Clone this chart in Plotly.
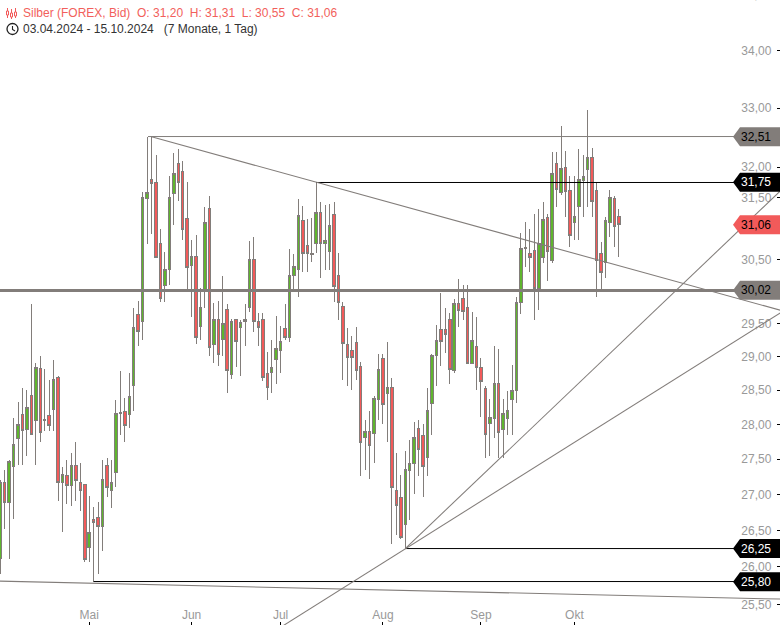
import math
import plotly.graph_objects as go

W, H = 780, 625

# Trading-day index of each candle (0 = 03.04.2024, 139 = 15.10.2024)
days = list(range(140))
opens = [26.11,27.16,26.89,27.40,27.80,28.14,27.92,28.42,28.06,28.83,28.06,28.13,28.22,28.69,27.16,27.27,27.13,27.41,27.17,27.14,
26.26,26.65,26.68,26.55,27.41,27.05,27.31,28.16,28.19,28.14,28.57,29.65,29.54,31.48,31.80,31.75,30.76,30.10,30.35,31.56,
32.06,31.93,31.16,30.41,30.55,29.46,30.00,31.32,29.19,29.56,29.26,29.72,28.74,29.56,29.45,29.53,29.75,30.51,29.53,29.57,
28.75,28.77,28.96,29.10,29.43,29.29,30.25,30.35,31.13,30.73,30.60,30.76,31.26,30.76,30.63,31.22,30.25,29.77,29.19,29.10,
29.22,28.86,27.81,27.90,27.87,28.36,28.98,28.45,28.54,27.06,26.96,26.58,27.34,27.44,27.94,27.84,27.52,28.31,29.02,29.42,
29.42,29.57,28.80,29.81,29.89,29.75,28.90,29.16,28.84,28.53,28.01,28.09,28.60,27.93,28.09,28.36,28.49,29.83,30.67,30.60,
30.65,30.04,30.54,31.18,30.49,32.06,31.58,32.00,31.61,31.10,31.35,31.78,31.96,32.16,31.61,30.60,30.46,31.10,31.48,31.20]
highs = [27.20,27.34,27.49,28.09,28.32,28.53,28.50,29.80,28.90,29.01,28.81,28.65,28.95,28.71,27.38,27.48,27.58,27.74,27.44,27.15,
26.98,26.82,26.89,27.48,27.52,27.48,28.35,28.79,28.38,28.75,29.74,29.85,31.59,32.51,32.51,32.20,30.99,30.62,31.85,32.23,
32.30,32.10,31.76,30.81,30.89,30.05,31.34,31.53,29.82,29.86,30.25,29.81,29.57,29.57,29.56,29.81,30.79,30.86,29.66,29.66,
29.07,29.25,29.62,29.46,29.81,30.67,30.59,31.48,31.37,31.15,31.16,31.75,31.43,31.38,31.40,31.43,30.60,29.83,29.43,29.31,
29.45,28.92,28.07,28.19,28.41,29.04,29.04,29.22,28.68,27.58,27.27,27.61,27.77,28.04,28.06,28.00,28.53,29.04,29.48,29.97,
29.74,29.66,29.88,30.19,30.10,30.10,29.68,29.60,28.98,28.56,28.37,29.17,29.11,28.37,28.49,28.87,29.91,30.92,31.10,30.99,
31.23,31.31,31.43,31.23,32.26,32.26,32.70,32.28,31.85,31.85,32.30,32.21,32.96,32.33,31.76,30.78,31.18,31.63,31.53,31.31]
lows = [25.90,26.52,26.11,26.66,27.41,27.41,27.55,27.85,27.41,27.75,27.90,27.91,27.90,26.90,26.47,26.86,26.84,26.90,26.77,26.07,
26.07,25.80,25.90,26.22,26.96,26.81,27.11,27.85,27.75,27.95,28.20,29.16,29.25,30.75,30.91,30.54,29.84,29.84,30.10,31.05,
31.45,30.81,30.04,29.60,29.20,29.26,29.75,29.01,28.90,28.86,29.01,28.46,28.66,28.84,28.71,29.16,29.68,29.37,29.16,28.63,
28.35,28.46,28.60,28.75,29.26,29.23,30.02,29.91,30.30,30.30,30.46,30.60,30.21,30.33,30.33,29.84,29.56,28.65,28.56,28.50,
28.65,27.26,27.35,27.21,27.45,28.06,28.00,27.75,26.31,26.43,26.38,26.25,26.64,27.00,27.26,26.96,27.26,27.85,28.56,28.86,
29.05,28.60,28.75,29.45,29.56,28.90,28.89,28.50,28.10,27.51,27.55,27.80,27.51,27.51,27.85,27.85,28.31,29.65,30.39,30.30,
29.56,29.72,30.44,30.16,30.44,31.35,31.55,31.19,30.70,30.81,30.81,31.19,31.35,31.19,29.91,30.02,30.21,30.86,30.70,30.55]
closes = [27.17,26.89,27.47,27.71,28.00,27.91,28.24,27.85,28.84,27.88,28.07,27.99,28.66,27.17,27.28,27.13,27.41,27.20,27.06,26.10,
26.47,26.61,26.55,27.21,27.10,27.16,28.16,28.17,27.99,28.41,29.45,29.39,31.50,31.59,31.73,30.54,29.89,30.35,31.50,31.90,
31.75,30.99,30.38,30.55,29.29,29.75,31.10,29.14,29.56,29.04,29.51,28.80,29.54,29.23,29.52,29.56,30.51,29.53,29.45,28.69,
28.54,28.84,29.12,29.23,29.29,30.25,30.39,31.21,30.60,30.60,30.59,31.26,30.76,30.81,31.05,30.08,29.83,29.20,28.99,28.99,
28.80,27.74,27.90,27.69,28.38,28.81,28.29,28.54,27.10,26.85,26.40,27.35,27.44,27.81,27.63,27.40,28.20,29.02,29.25,29.23,
29.34,28.81,29.81,29.71,29.69,28.90,29.25,28.84,28.63,27.85,28.10,28.60,27.88,28.16,28.20,28.50,29.83,30.68,30.70,30.54,
30.04,30.75,31.15,30.63,31.90,31.63,31.98,31.60,30.89,31.19,31.80,31.85,32.16,31.43,30.49,30.29,31.13,31.50,31.03,31.06]

month_labels = ["Mai", "Jun", "Jul", "Aug", "Sep", "Okt"]
month_days = [20, 43, 63, 86, 108, 129]
price_ticks = [25.5, 26, 26.5, 27, 27.5, 28, 28.5, 29, 29.5, 30.5, 31.5, 32, 33, 34]
price_tick_labels = ["25,50", "26,00", "26,50", "27,00", "27,50", "28,00", "28,50",
                     "29,00", "29,50", "30,50", "31,50", "32,00", "33,00", "34,00"]

# Horizontal levels: value, first day, colour, width
level_values = [32.515, 31.748, 30.015, 26.25, 25.804]
level_starts = [33.2, 71, -1, 91, 21]
level_colors = ["#827d7a", "#000000", "#827d7a", "#000000", "#000000"]
level_widths = [1, 1, 3, 1, 1]

# Trend lines: (day, price) -> (day, price)
trend_from_day = [34, 91, 63.6, -0.1]
trend_from_val = [32.51, 26.25, 25.22, 25.81]
trend_to_day = [175.3, 175.3, 175.3, 175.3]
trend_to_val = [29.71, 31.61, 29.67, 25.57]

# Price tags at the right edge: value, text, fill, text colour
tag_values = [32.51, 31.75, 31.06, 30.02, 26.25, 25.80]
tag_texts = ["32,51", "31,75", "31,06", "30,02", "26,25", "25,80"]
tag_fills = ["#827d7a", "#000000", "#f25a5a", "#827d7a", "#000000", "#000000"]
tag_inks = ["#000000", "#ffffff", "#000000", "#000000", "#ffffff", "#ffffff"]

GREY = "#827d7a"
GREEN = "#5fb52e"
RED = "#f25a5a"
LABEL = "#999999"
FONT = "Liberation Sans, Arial, sans-serif"

fig = go.Figure(go.Candlestick(
    x=days, open=opens, high=highs, low=lows, close=closes,
    increasing=dict(line=dict(color=GREY, width=1), fillcolor=GREEN),
    decreasing=dict(line=dict(color=GREY, width=1), fillcolor=RED),
    whiskerwidth=0, showlegend=False, hoverinfo="skip",
))

shapes = []
for v, s, c, w in zip(level_values, level_starts, level_colors, level_widths):
    shapes.append(dict(type="line", xref="x", yref="y", x0=s, x1=176, y0=v, y1=v,
                       line=dict(color=c, width=w), layer="above"))
for d0, v0, d1, v1 in zip(trend_from_day, trend_from_val, trend_to_day, trend_to_val):
    shapes.append(dict(type="line", xref="x", yref="y", x0=d0, x1=d1, y0=v0, y1=v1,
                       line=dict(color=GREY, width=1.05), layer="above"))
for v, f in zip(tag_values, tag_fills):
    shapes.append(dict(type="path", xref="paper", yref="y", xsizemode="pixel", ysizemode="pixel",
                       xanchor=1, yanchor=v,
                       path="M -47 0 L -40 -9.5 L 0 -9.5 L 0 9.5 L -40 9.5 Z",
                       fillcolor=f, line=dict(width=0), layer="above"))

def px(x):
    return x / W

def py(y):
    return 1 - y / H

ICON = "#f25a5a"
for cx, top, bot, b0, b1 in [(7.5, 8, 18, 11, 15), (11.5, 9, 19, 13, 17), (15.5, 8, 18, 12, 16)]:
    shapes.append(dict(type="line", xref="paper", yref="paper", x0=px(cx), x1=px(cx), y0=py(top), y1=py(bot),
                       line=dict(color=ICON, width=1), layer="above"))
    shapes.append(dict(type="rect", xref="paper", yref="paper", x0=px(cx - 1), x1=px(cx + 1), y0=py(b0), y1=py(b1),
                       line=dict(color=ICON, width=1), fillcolor="#ffffff", layer="above"))
shapes.append(dict(type="circle", xref="paper", yref="paper", x0=px(7), x1=px(18), y0=py(23.5), y1=py(34.5),
                   line=dict(color="#222222", width=1.3), layer="above"))
shapes.append(dict(type="path", xref="paper", yref="paper",
                   path=f"M {px(12.5)} {py(26)} L {px(12.5)} {py(29.5)} L {px(15)} {py(31)}",
                   line=dict(color="#222222", width=1.1), layer="above"))

annotations = []
for v, t, ink in zip(tag_values, tag_texts, tag_inks):
    annotations.append(dict(xref="paper", yref="y", x=1, y=math.log10(v), xshift=-7, xanchor="right",
                            yanchor="middle", text=t, showarrow=False, font=dict(family=FONT, size=12, color=ink)))
annotations.append(dict(xref="paper", yref="paper", x=1, y=1, xshift=-7, yshift=5, xanchor="right",
                        yanchor="middle", text="35,00", showarrow=False, font=dict(family=FONT, size=12, color=LABEL)))
annotations.append(dict(xref="paper", yref="paper", x=px(23), y=py(13), xanchor="left", yanchor="middle",
                        text="Silber (FOREX, Bid)\u00a0\u00a0O: 31,20\u00a0\u00a0H: 31,31\u00a0\u00a0L: 30,55\u00a0\u00a0C: 31,06",
                        showarrow=False, xshift=-2, font=dict(family=FONT, size=12, color="#f25f5c")))
annotations.append(dict(xref="paper", yref="paper", x=px(23), y=py(29), xanchor="left", yanchor="middle",
                        text="03.04.2024 - 15.10.2024\u00a0\u00a0\u00a0(7 Monate, 1 Tag)",
                        showarrow=False, xshift=-2, font=dict(family=FONT, size=12, color="#333333")))

fig.update_layout(
    width=W, height=H, margin=dict(l=0, r=0, t=0, b=0),
    paper_bgcolor="#ffffff", plot_bgcolor="#ffffff", boxgap=0.2,
    shapes=shapes, annotations=annotations, showlegend=False,
    font=dict(family=FONT, size=12, color=LABEL),
    xaxis=dict(range=[-0.05, 175.2], showgrid=False, zeroline=False, rangeslider=dict(visible=False),
               tickmode="array", tickvals=month_days, ticktext=month_labels,
               ticks="inside", ticklen=3, tickcolor="#000000", tickwidth=1,
               ticklabelposition="inside", showline=False,
               tickfont=dict(family=FONT, size=12, color=LABEL)),
    yaxis=dict(type="log", side="right", range=[math.log10(25.228), math.log10(34.905)],
               showgrid=False, zeroline=False, tickmode="array", tickvals=price_ticks, ticktext=price_tick_labels,
               ticks="inside", ticklen=3, tickcolor="#000000", tickwidth=1,
               ticklabelposition="inside", ticklabelstandoff=5, showline=False,
               tickfont=dict(family=FONT, size=12, color=LABEL)),
)

fig.write_html("out.html", config=dict(displayModeBar=False),
               post_script="document.body.style.margin='0';document.body.style.overflow='hidden';"
                           "document.querySelectorAll('.boxlayer path').forEach(function(p){p.style.shapeRendering='crispEdges';});")
